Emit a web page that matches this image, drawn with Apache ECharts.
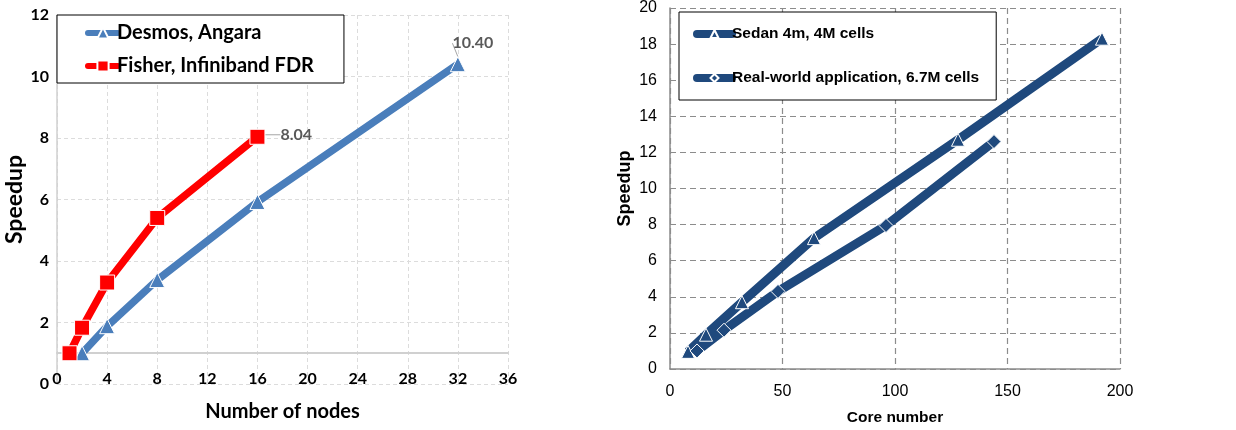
<!DOCTYPE html>
<html><head><meta charset="utf-8">
<script src="https://cdn.jsdelivr.net/npm/echarts@6/dist/echarts.min.js"></script>
<style>html,body{margin:0;padding:0;background:#fff}#c{width:1236px;height:430px}</style>
</head><body><div id="c"></div>
<script>
// Left chart data
const nodesDesmos = [2, 4, 8, 16, 32];
const speedupDesmos = [1.0, 1.88, 3.38, 5.92, 10.40];
const nodesFisher = [1, 2, 4, 8, 16];
const speedupFisher = [1.0, 1.83, 3.3, 5.4, 8.04];
// Right chart data
const coresSedan = [8, 16, 32, 64, 128, 192];
const speedupSedan = [0.95, 1.9, 3.7, 7.25, 12.7, 18.3];
const coresReal = [12, 24, 48, 96, 144];
const speedupReal = [1.0, 2.15, 4.3, 7.95, 12.6];

const leftFont = 'Lato';
const rightFont = 'Liberation Sans';
const blue = '#4a7ebb', red = '#ff0000', navy = '#1f497d';

function pairs(xs, ys, labelIdx) {
  return xs.map((x, i) => {
    const d = { value: [x, ys[i]] };
    if (i === labelIdx) d.label = { show: true };
    return d;
  });
}

const chart = echarts.init(document.getElementById('c'), null, { renderer: 'canvas' });
chart.setOption({
  animation: false,
  backgroundColor: '#fff',
  grid: [
    { left: 57, top: 15, width: 451, height: 369, containLabel: false, outerBoundsMode: 'none' },
    { left: 670, top: 8, width: 450, height: 361, containLabel: false, outerBoundsMode: 'none' }
  ],
  legend: [
    {
      left: 57, top: 15, orient: 'vertical',
      data: ['Desmos, Angara', 'Fisher, Infiniband FDR'],
      backgroundColor: '#fff', borderColor: '#000', borderWidth: 1,
      padding: [8, 30, 7, 28], itemGap: 13, itemWidth: 30, itemHeight: 14,
      lineStyle: { width: 6, cap: 'round' },
      textStyle: { fontFamily: leftFont, fontWeight: 'bold', fontSize: 20, color: '#000', padding: [0, 0, 0, -6] }
    },
    {
      left: 679, top: 12, orient: 'vertical',
      data: ['Sedan 4m, 4M cells', 'Real-world application, 6.7M cells'],
      backgroundColor: '#fff', borderColor: '#000', borderWidth: 1,
      padding: [14, 17, 14, 14], itemGap: 28, itemWidth: 35, itemHeight: 10,
      lineStyle: { width: 8, cap: 'round' },
      textStyle: { fontFamily: rightFont, fontWeight: 'bold', fontSize: 15.5, color: '#000', padding: [0, 0, 0, -5] }
    }
  ],
  xAxis: [
    {
      gridIndex: 0, type: 'value', min: 0, max: 36, interval: 4,
      offset: -31,
      name: 'Number of nodes', nameLocation: 'middle', nameGap: 49,
      nameTextStyle: { fontFamily: leftFont, fontWeight: 'bold', fontSize: 20, color: '#000' },
      axisLine: { show: true, lineStyle: { color: '#d0d0d0', width: 2 } },
      axisTick: { show: false },
      axisLabel: { margin: 18, fontFamily: leftFont, fontWeight: 'bold', fontSize: 16, color: '#000' },
      splitLine: { show: true, lineStyle: { type: [4, 3], color: '#dcdcdc', width: 1 } }
    },
    {
      gridIndex: 1, type: 'value', min: 0, max: 200, interval: 50,
      name: 'Core number', nameLocation: 'middle', nameGap: 41,
      nameTextStyle: { fontFamily: rightFont, fontWeight: 'bold', fontSize: 15.5, color: '#000' },
      axisLine: { show: true, lineStyle: { color: '#8c8c8c', width: 1.5 } },
      axisTick: { show: false },
      axisLabel: { margin: 15, fontFamily: rightFont, fontSize: 16, color: '#000' },
      splitLine: { show: true, lineStyle: { type: [6, 4], color: '#8c8c8c', width: 1.2 } }
    }
  ],
  yAxis: [
    {
      gridIndex: 0, type: 'value', min: 0, max: 12, interval: 2,
      name: 'Speedup', nameLocation: 'middle', nameGap: 30,
      nameTextStyle: { fontFamily: leftFont, fontWeight: 'bold', fontSize: 23, color: '#000' },
      axisLine: { show: true, lineStyle: { color: '#d0d0d0', width: 1.5 } },
      axisTick: { show: false },
      axisLabel: { margin: 8, fontFamily: leftFont, fontWeight: 'bold', fontSize: 16, color: '#000' },
      splitLine: { show: true, lineStyle: { type: [4, 3], color: '#dcdcdc', width: 1 } }
    },
    {
      gridIndex: 1, type: 'value', min: 0, max: 20, interval: 2,
      name: 'Speedup', nameLocation: 'middle', nameGap: 36,
      nameTextStyle: { fontFamily: rightFont, fontWeight: 'bold', fontSize: 18, color: '#000' },
      axisLine: { show: true, lineStyle: { color: '#8c8c8c', width: 1.5 } },
      axisTick: { show: false },
      axisLabel: { margin: 13, fontFamily: rightFont, fontSize: 16, color: '#000' },
      splitLine: { show: true, lineStyle: { type: [6, 4], color: '#8c8c8c', width: 1.2 } }
    }
  ],
  series: [
    {
      name: 'Desmos, Angara', type: 'line', xAxisIndex: 0, yAxisIndex: 0,
      data: pairs(nodesDesmos, speedupDesmos, 4),
      color: blue,
      lineStyle: { color: blue, width: 7.5 },
      symbol: 'triangle', symbolSize: 15,
      itemStyle: { color: blue, borderColor: '#fff', borderWidth: 1 },
      label: { show: false, position: 'top', formatter: p => p.value[1].toFixed(2),
        fontFamily: leftFont, fontWeight: 'bold', fontSize: 16, color: '#595959' },
      labelLayout: { dx: 15, dy: 0 },
      labelLine: { show: true, lineStyle: { color: '#a6a6a6', width: 1 } },
      z: 3
    },
    {
      name: 'Fisher, Infiniband FDR', type: 'line', xAxisIndex: 0, yAxisIndex: 0,
      data: pairs(nodesFisher, speedupFisher, 4),
      color: red,
      lineStyle: { color: red, width: 7.5 },
      symbol: 'rect', symbolSize: 15,
      itemStyle: { color: red, borderColor: '#fff', borderWidth: 1 },
      label: { show: false, position: 'right', formatter: p => p.value[1].toFixed(2),
        fontFamily: leftFont, fontWeight: 'bold', fontSize: 16, color: '#595959' },
      labelLayout: { dx: 10, dy: -2 },
      labelLine: { show: true, lineStyle: { color: '#a6a6a6', width: 1 } },
      z: 3
    },
    {
      name: 'Sedan 4m, 4M cells', type: 'line', xAxisIndex: 1, yAxisIndex: 1,
      data: pairs(coresSedan, speedupSedan, -1),
      color: navy,
      lineStyle: { color: navy, width: 9 },
      symbol: 'triangle', symbolSize: 13,
      itemStyle: { color: navy, borderColor: '#fff', borderWidth: 1 },
      z: 3
    },
    {
      name: 'Real-world application, 6.7M cells', type: 'line', xAxisIndex: 1, yAxisIndex: 1,
      data: pairs(coresReal, speedupReal, -1),
      color: navy,
      lineStyle: { color: navy, width: 9 },
      symbol: 'diamond', symbolSize: 14,
      itemStyle: { color: navy, borderColor: '#fff', borderWidth: 1 },
      z: 3
    }
  ]
});
</script>
</body></html>
